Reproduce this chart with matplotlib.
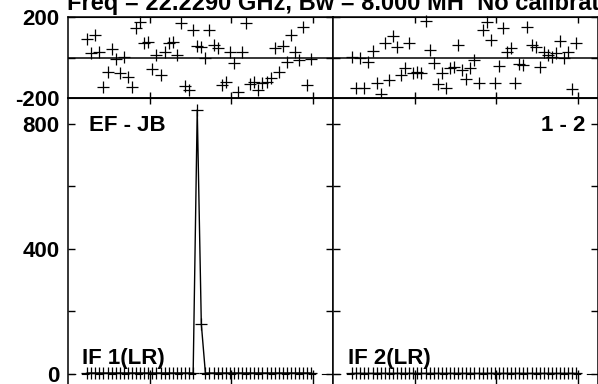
import matplotlib
matplotlib.use("Agg")
import matplotlib.pyplot as plt

plt.rcParams['font.family'] = ['Liberation Sans', 'DejaVu Sans']
plt.rcParams['font.weight'] = 'bold'

title = "Freq = 22.2290 GHz, Bw = 8.000 MH  No calibration applied"
baseline_name = "EF - JB"
pair_name = "1 - 2"
if_names = ["IF 1(LR)", "IF 2(LR)"]

channels = list(range(4, 60))

phase_if1 = [89, 24, 110, 28, -143, -70, 40, -9, -77, 4, -94, -143, 143, 175,
             70, 77, -58, 12, -86, 28, 70, 77, 12, 168, -140, -159, 135,
             56, 51, -4, 135, 61, 45, -135, -119, 28, -25, -168, 28, 171,
             -130, -119, -159, -124, -119, -102, 45, -70, 56, -21, 110, 28,
             -12, 151, -135, -9]
phase_if2 = [1, -149, -4, -149, -21, 33, -127, -179, 73, -110, 105, 53, -86,
             -53, 73, -75, -70, -78, 180, 37, -29, -130, -75, -151, -51, -45,
             61, -61, -107, -53, -12, -123, 135, 175, 86, -127, -42, 143, 28,
             45, -127, -32, -37, 151, 61, 53, -45, 28, 12, 4, 24, 82, -4, 28,
             -156, 72]

amp_if1 = [3, 3, 3, 3, 3, 3, 3, 3, 3, 3, 3, 3, 3, 3, 3, 3, 3, 3, 3, 3, 3, 3,
           3, 3, 3, 3, 3, 845, 160, 3, 3, 3, 3, 3, 3, 3, 3, 3, 3, 3, 3, 3, 3,
           3, 3, 3, 3, 3, 3, 3, 3, 3, 3, 3, 3, 3]
amp_if2 = [3, 3, 3, 3, 3, 3, 3, 3, 3, 3, 3, 3, 3, 3, 3, 3, 3, 3, 3, 3, 3, 3,
           3, 3, 3, 3, 3, 3, 3, 3, 3, 3, 3, 3, 3, 3, 3, 3, 3, 3, 3, 3, 3, 3,
           3, 3, 3, 3, 3, 3, 3, 3, 3, 3, 3, 3]

xticks = [19.4, 39.4, 59.4]
xlim = (-0.7, 64.3)
W, H = 598, 384
AMP_TOP, AMP_H = 98.3, 290.7
FS = 16

fig = plt.figure(figsize=(W / 100, H / 100), dpi=100)


def frac(x0, y_top, w, h):
    return [x0 / W, 1 - (y_top + h) / H, w / W, h / H]


def style(ax, tick_len_bottom):
    for sp in ax.spines.values():
        sp.set_linewidth(1.1)
    ax.set_xlim(*xlim)
    ax.set_xticks(xticks)
    ax.tick_params(axis='x', direction='in', length=tick_len_bottom, width=1,
                   labelbottom=False, top=False)
    top = ax.secondary_xaxis('top')
    top.set_xticks(xticks)
    top.tick_params(direction='in', length=4.5, width=1, labeltop=False)
    ax.tick_params(axis='y', direction='in', length=5, width=1,
                   left=True, right=True, labelsize=FS, pad=6)


def panel_text(ax, x0, px, py, s, ha='left'):
    # px, py: pixel position of the text anchor in the figure
    ax.text((px - x0) / 265, (AMP_TOP + AMP_H - py) / AMP_H, s,
            transform=ax.transAxes, fontsize=FS, va='baseline', ha=ha)


panels = [(68, phase_if1, amp_if1), (333, phase_if2, amp_if2)]
for i, (x0, ph, amp) in enumerate(panels):
    axp = fig.add_axes(frac(x0, 16.7, 265, 81.6))
    axa = fig.add_axes(frac(x0, AMP_TOP, 265, AMP_H))

    axp.plot(channels, ph, ls='none', marker='+', color='k', ms=8, mew=0.9, clip_on=False)
    axp.axhline(0, color='k', lw=1.1)
    axp.set_ylim(-200, 200)
    axp.set_yticks([-200, 0, 200])
    axp.set_yticklabels(['-200', '', '200'] if i == 0 else ['', '', ''])
    style(axp, 4.5)

    axa.axhline(0, color='k', lw=0.8, ls=(0, (7, 5)))
    axa.plot(channels, amp, color='k', lw=1, marker='+', ms=8, mew=0.9)
    axa.set_ylim(-48, 882)
    axa.set_yticks([0, 200, 400, 600, 800])
    axa.set_yticklabels(['0', '', '400', '', '800'] if i == 0 else [''] * 5)
    style(axa, 14)

    panel_text(axa, x0, 82 if i == 0 else 348, 364, if_names[i])
    if i == 0:
        panel_text(axa, x0, 89, 130.7, baseline_name)
    else:
        panel_text(axa, x0, 585, 130.7, pair_name, ha='right')

fig.text(67 / W, 1 - 10 / H, title, fontsize=17, va='baseline', ha='left')

fig.savefig("out.png", dpi=100)
